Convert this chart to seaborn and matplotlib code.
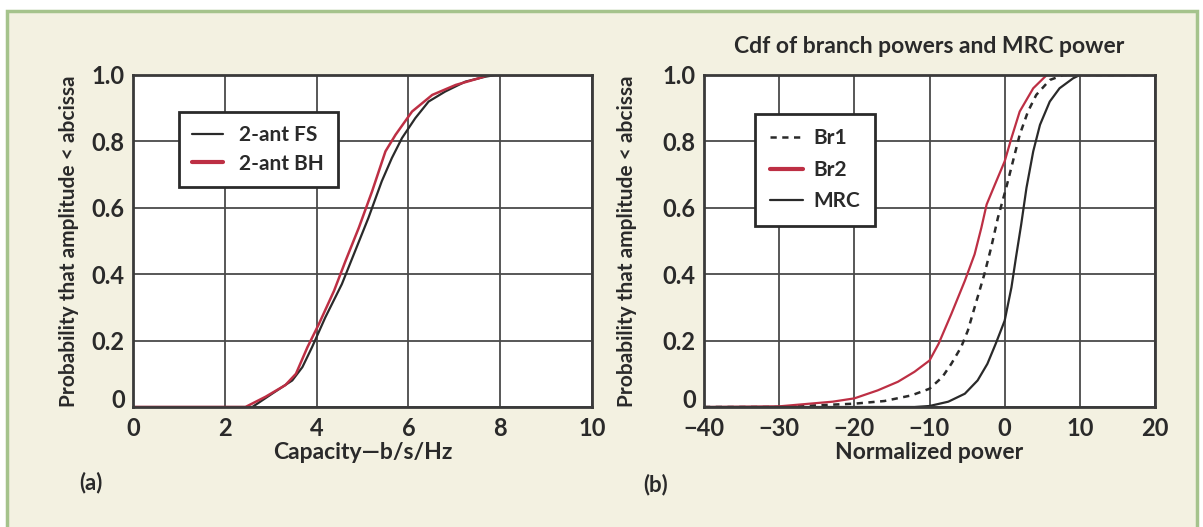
import pandas as pd
import matplotlib
matplotlib.use("Agg")
import matplotlib.pyplot as plt
import matplotlib.transforms as mtransforms
from matplotlib.patches import Rectangle
import seaborn as sns

# ---- data (x, cumulative probability) ----
# panel (a): capacity in b/s/Hz
fs_x = [0, 2.6, 3.03, 3.47, 3.69, 3.90, 4.19, 4.55, 4.84, 5.13, 5.42, 5.64, 5.86, 6.15, 6.44, 6.80, 7.24, 7.68, 7.9, 10]
fs_p = [0, 0.0, 0.04, 0.08, 0.12, 0.18, 0.27, 0.37, 0.47, 0.57, 0.68, 0.75, 0.81, 0.87, 0.92, 0.95, 0.98, 0.995, 1.0, 1.0]
bh_x = [0, 2.45, 2.89, 3.32, 3.55, 3.80, 4.05, 4.38, 4.63, 4.92, 5.21, 5.50, 5.72, 6.08, 6.52, 7.03, 7.53, 7.75, 10]
bh_p = [0, 0.0, 0.031, 0.066, 0.10, 0.18, 0.25, 0.35, 0.44, 0.54, 0.65, 0.77, 0.82, 0.89, 0.94, 0.97, 0.99, 1.0, 1.0]

# panel (b): normalized power
br1_x = [-40, -30, -20, -16, -12.4, -10, -8.3, -7.1, -5.8, -4.9, -4.0, -2.7, -1.8, -0.9, 0.2, 1.1, 2.0, 3.1, 4.2, 6.0, 7.8, 20]
br1_p = [0, 0.0, 0.01, 0.018, 0.035, 0.055, 0.09, 0.13, 0.18, 0.23, 0.30, 0.40, 0.48, 0.57, 0.66, 0.74, 0.82, 0.89, 0.94, 0.985, 1.0, 1.0]
br2_x = [-40, -30, -22.9, -20, -16.9, -14.2, -12.0, -10, -8.8, -7.1, -5.3, -4.0, -3.1, -2.4, -1.3, 0.0, 0.9, 2.0, 3.8, 5.6, 20]
br2_p = [0, 0.002, 0.016, 0.026, 0.05, 0.076, 0.106, 0.14, 0.19, 0.28, 0.38, 0.46, 0.54, 0.61, 0.67, 0.74, 0.81, 0.89, 0.96, 1.0, 1.0]
mrc_x = [-40, -12, -10, -7.5, -5.3, -3.6, -2.3, -1.2, 0.0, 0.9, 1.5, 2.2, 2.9, 3.8, 4.7, 6.0, 7.3, 9.1, 10, 20]
mrc_p = [0, 0.0, 0.003, 0.016, 0.04, 0.08, 0.13, 0.19, 0.26, 0.36, 0.45, 0.55, 0.66, 0.77, 0.85, 0.92, 0.96, 0.99, 1.0, 1.0]

cap_ticks = [0, 2, 4, 6, 8, 10]
pw_ticks = [-40, -30, -20, -10, 0, 10, 20]
p_ticks = [0, 0.2, 0.4, 0.6, 0.8, 1.0]
p_labels = ["0", "0.2", "0.4", "0.6", "0.8", "1.0"]

RED = "#bd2f44"
INK = "#2a2a2a"
BG = "#f3f1e1"

sns.set_style("white")
plt.rcParams["font.family"] = ["Lato", "DejaVu Sans"]
plt.rcParams["font.weight"] = "bold"
plt.rcParams["axes.labelweight"] = "bold"
plt.rcParams["axes.titleweight"] = "bold"

fig = plt.figure(figsize=(12.03, 5.27), dpi=100)
fig.patch.set_facecolor("white")
frame = Rectangle((7 / 1203, -0.05), 1190 / 1203, 1 - 11 / 527 + 0.05,
                  transform=fig.transFigure, facecolor=BG,
                  edgecolor="#a5c38c", linewidth=2.5, zorder=-10)
fig.patches.append(frame)

ax1 = fig.add_axes([133 / 1203, 1 - 407 / 527, 459 / 1203, 332 / 527])
ax2 = fig.add_axes([704 / 1203, 1 - 407 / 527, 451 / 1203, 332 / 527])

sns.lineplot(x=fs_x, y=fs_p, sort=False, estimator=None, color=INK, lw=1.6,
             label="2-ant FS", ax=ax1)
sns.lineplot(x=bh_x, y=bh_p, sort=False, estimator=None, color=RED, lw=1.8,
             label="2-ant BH", ax=ax1)

sns.lineplot(x=br1_x, y=br1_p, sort=False, estimator=None, color=INK, lw=1.8,
             ls=(0, (2.5, 2.2)), label="Br1", ax=ax2)
sns.lineplot(x=br2_x, y=br2_p, sort=False, estimator=None, color=RED, lw=1.6,
             label="Br2", ax=ax2)
sns.lineplot(x=mrc_x, y=mrc_p, sort=False, estimator=None, color=INK, lw=1.6,
             label="MRC", ax=ax2)

raise_zero = mtransforms.ScaledTranslation(0, 6 / 72, fig.dpi_scale_trans)
for ax, ticks in [(ax1, cap_ticks), (ax2, pw_ticks)]:
    ax.set_zorder(1)
    ax.set_facecolor("white")
    ax.set_xlim(ticks[0], ticks[-1])
    ax.set_ylim(0, 1)
    ax.set_xticks(ticks)
    ax.set_xticklabels([str(t).replace("-", "\u2212") for t in ticks])
    ax.set_yticks(p_ticks)
    ax.set_yticklabels(p_labels)
    ax.grid(True, color="#4a4a4a", lw=1.3)
    ax.set_axisbelow(True)
    ax.tick_params(length=0, labelsize=17, colors=INK, pad=6)
    ax.tick_params(axis="x", pad=7)
    zero_lbl = ax.get_yticklabels()[0]
    zero_lbl.set_transform(zero_lbl.get_transform() + raise_zero)
    for sp in ax.spines.values():
        sp.set_visible(True)
        sp.set_color("#3a3a3a")
        sp.set_linewidth(2)
    ax.set_ylabel("Probability that amplitude < abcissa", fontsize=15, color=INK,
                  fontweight="bold")

leg1 = ax1.legend(loc="upper left", bbox_to_anchor=(0.100, 0.889), borderaxespad=0,
                  fontsize=15, frameon=True, fancybox=False, edgecolor=INK,
                  handlelength=1.45, handletextpad=0.8, borderpad=0.65,
                  labelspacing=0.4, framealpha=1)
leg2 = ax2.legend(loc="upper left", bbox_to_anchor=(0.113, 0.883), borderaxespad=0,
                  fontsize=15, frameon=True, fancybox=False, edgecolor=INK,
                  handlelength=1.6, handletextpad=0.5, borderpad=0.7,
                  labelspacing=0.55, framealpha=1)
for leg in (leg1, leg2):
    leg.get_frame().set_linewidth(2)
    for t in leg.get_texts():
        t.set_color(INK)
leg1.get_lines()[1].set_linewidth(3)
leg2.get_lines()[1].set_linewidth(3)

ax1.yaxis.set_label_coords(-0.118, 0.5)
ax2.yaxis.set_label_coords(-0.148, 0.5)
ax1.set_xlabel("Capacity\u2014b/s/Hz", fontsize=16.5, color=INK)
ax2.set_xlabel("Normalized power", fontsize=16.5, color=INK)
ax1.xaxis.set_label_coords(0.5, -0.105)
ax2.xaxis.set_label_coords(0.5, -0.105)
ax2.set_title("Cdf of branch powers and MRC power", fontsize=16.5, color=INK, pad=16)

fig.text(91 / 1203, 1 - 483 / 527, "(a)", fontsize=16, color=INK, ha="center", va="center")
fig.text(656 / 1203, 1 - 485 / 527, "(b)", fontsize=16, color=INK, ha="center", va="center")

fig.savefig("out.png", dpi=100, facecolor=fig.get_facecolor())
